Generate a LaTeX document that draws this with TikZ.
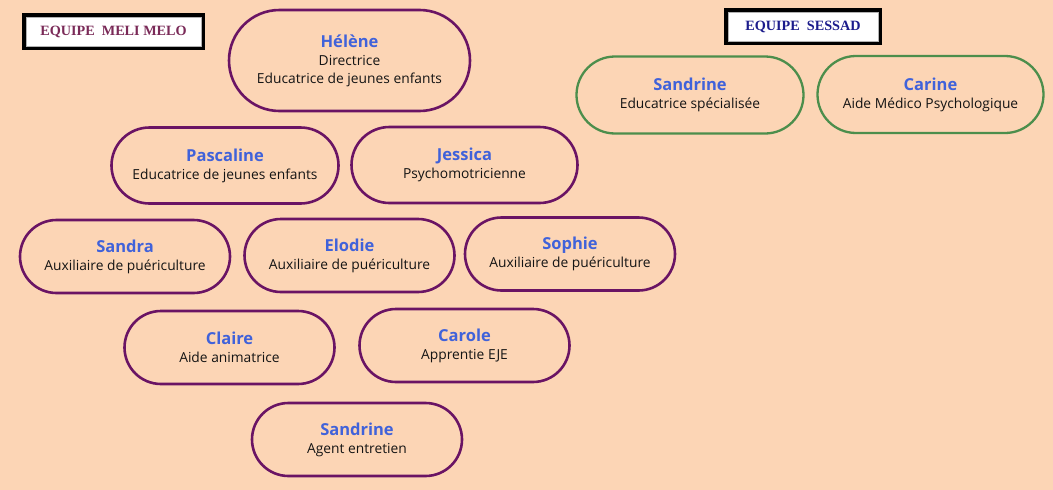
\documentclass[tikz,border=0pt]{standalone}
\usepackage{fontspec}
\setmainfont{Open Sans}
\newfontfamily\titlefont{Liberation Serif}
\usetikzlibrary{shapes.misc}
\definecolor{bg}{HTML}{FCD5B5}
\definecolor{pur}{HTML}{6A1464}
\definecolor{grn}{HTML}{4C8E4C}
\definecolor{nameblue}{HTML}{4062DA}
\definecolor{roletxt}{HTML}{141414}
\definecolor{melicol}{HTML}{7A2A58}
\definecolor{sessadcol}{HTML}{1C1C8C}
\tikzset{
  person/.style={rounded rectangle, rounded rectangle arc length=180, draw=pur, line width=2.6pt,
    minimum width=#1, inner sep=0pt, align=center, text=roletxt, font=\fontsize{13.8}{18}\selectfont},
  person/.default=210pt,
  sessad/.style={person=#1, draw=grn, line width=2.3pt},
  titlebox/.style={draw=gray!60, line width=0.6pt, fill=white, minimum height=29pt, inner sep=0pt,
    font=\titlefont\bfseries\fontsize{14.2}{16}\selectfont},
}
\newcommand{\nm}[1]{{\color{nameblue}\bfseries\fontsize{16.5}{22}\selectfont #1}}
\begin{document}
\begin{tikzpicture}[x=1pt,y=-1pt]
\fill[bg] (0,0) rectangle (1053,490);
\useasboundingbox (0,0) rectangle (1053,490);
% title boxes
\fill[black] (22,13) rectangle (205,50);
\node[titlebox, minimum width=175pt, text=melicol] (tmeli) at (113.5,31.5) {EQUIPE\ \ MELI MELO};
\fill[black] (724,8) rectangle (882,45);
\node[titlebox, minimum width=150pt, text=sessadcol] (tsessad) at (803,26.5) {EQUIPE\ \ SESSAD};
% MELI MELO team
\node[person=241pt, minimum height=101pt] (helene) at (349.5,60.5) {\nm{Hélène}\\Directrice\\Educatrice de jeunes enfants};
\node[person=227pt, minimum height=76pt] (pascaline) at (225,165.5) {\nm{Pascaline}\\Educatrice de jeunes enfants};
\node[person=226pt, minimum height=76pt] (jessica) at (464.5,165) {\nm{Jessica}\\Psychomotricienne};
\node[person, minimum height=73pt] (sandra) at (125,256.5) {\nm{Sandra}\\Auxiliaire de puériculture};
\node[person, minimum height=73pt] (elodie) at (349.5,255.5) {\nm{Elodie}\\Auxiliaire de puériculture};
\node[person, minimum height=73pt] (sophie) at (570,254) {\nm{Sophie}\\Auxiliaire de puériculture};
\node[person, minimum height=73pt] (claire) at (229.5,347.5) {\nm{Claire}\\Aide animatrice};
\node[person, minimum height=73pt] (carole) at (464.5,345.5) {\nm{Carole}\\Apprentie EJE};
\node[person, minimum height=73pt] (sandrineb) at (357,439.5) {\nm{Sandrine}\\Agent entretien};
% SESSAD team
\node[sessad=227pt, minimum height=77pt] (sandrines) at (690,95) {\nm{Sandrine}\\Educatrice spécialisée};
\node[sessad=226pt, minimum height=77pt] (carine) at (930.5,94.5) {\nm{Carine}\\Aide Médico Psychologique};
\end{tikzpicture}
\end{document}
